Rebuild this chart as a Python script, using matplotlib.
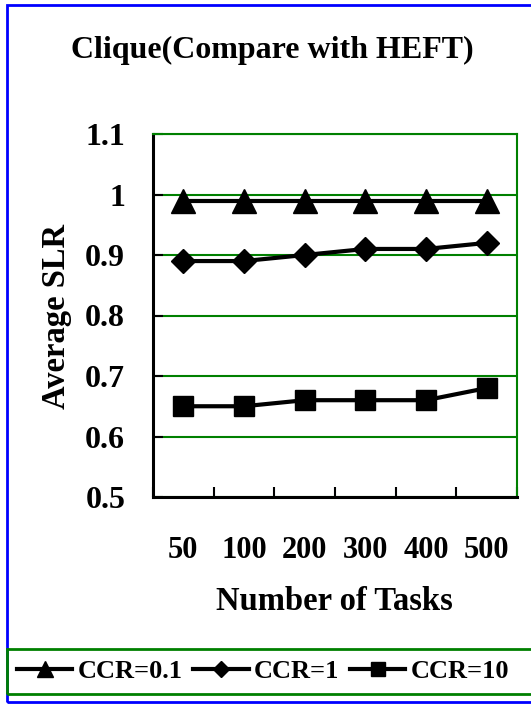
import numpy as np
import matplotlib.pyplot as plt
from matplotlib.patches import Rectangle

# Data
tasks = ['50', '100', '200', '300', '400', '500']
ccr_01 = [0.99, 0.99, 0.99, 0.99, 0.99, 0.99]
ccr_1 = [0.89, 0.89, 0.90, 0.91, 0.91, 0.92]
ccr_10 = [0.65, 0.65, 0.66, 0.66, 0.66, 0.68]
y_ticks = [0.5, 0.6, 0.7, 0.8, 0.9, 1.0, 1.1]
y_tick_labels = ['0.5', '0.6', '0.7', '0.8', '0.9', '1', '1.1']

plt.rcParams['font.family'] = 'Liberation Serif'
plt.rcParams['font.weight'] = 'bold'

W, H = 531, 704
fig = plt.figure(figsize=(W / 100, H / 100), dpi=100)
ax = fig.add_axes([153 / W, 1 - 497 / H, (517 - 153) / W, (497 - 134) / H])

x = np.arange(len(tasks))
ax.plot(x, ccr_01, color='black', lw=3, marker='^', ms=17, label='CCR=0.1', clip_on=False)
ax.plot(x, ccr_1, color='black', lw=3, marker='D', ms=12, label='CCR=1', clip_on=False)
ax.plot(x, ccr_10, color='black', lw=3, marker='s', ms=15, label='CCR=10', clip_on=False)

ax.set_xlim(-0.5, len(tasks) - 0.5)
ax.set_ylim(0.5, 1.1)
ax.set_yticks(y_ticks)
ax.set_yticklabels(y_tick_labels)
ax.set_xticks(x)
ax.set_xticklabels(tasks)
ax.set_xticks(np.arange(len(tasks) + 1) - 0.5, minor=True)

ax.tick_params(axis='x', which='major', length=0, pad=28, labelsize=22)
ax.tick_params(axis='x', which='minor', direction='in', length=7, width=1.5, color='black')
ax.tick_params(axis='y', direction='in', length=7, width=1.5, pad=20, labelsize=23)

ax.grid(True, axis='y', color='#008000', lw=1.5)
ax.set_axisbelow(True)
ax.spines['left'].set_color('black')
ax.spines['left'].set_linewidth(2.2)
ax.spines['bottom'].set_color('black')
ax.spines['bottom'].set_linewidth(2.2)
ax.spines['top'].set_color('#008000')
ax.spines['top'].set_linewidth(1.5)
ax.spines['right'].set_color('#008000')
ax.spines['right'].set_linewidth(1.5)

fig.text(272 / W, 1 - 50 / H, 'Clique(Compare with HEFT)', ha='center', va='center',
         fontsize=23, fontweight='bold')
fig.text(57 / W, 1 - 317 / H, 'Average SLR', ha='center', va='center', rotation=90,
         fontsize=23.5, fontweight='bold')
fig.text(334 / W, 1 - 602 / H, 'Number of Tasks', ha='center', va='center',
         fontsize=23.5, fontweight='bold')

# outer blue border and legend frame
fig.patches.append(Rectangle((7 / W, 1 - 702 / H), 1, (702 - 5) / H, transform=fig.transFigure,
                             fill=False, edgecolor='blue', lw=2))
fig.patches.append(Rectangle((7 / W, 1 - 694 / H), 1, (694 - 649) / H, transform=fig.transFigure,
                             fill=False, edgecolor='#008000', lw=2))

fig.legend(loc='center', bbox_to_anchor=(263 / W, 1 - 671 / H), ncol=3, frameon=False,
           fontsize=19, markerscale=0.7, handlelength=2.1, handletextpad=0.2,
           columnspacing=0.4, borderpad=0.2)

fig.savefig('out.png', dpi=100)
